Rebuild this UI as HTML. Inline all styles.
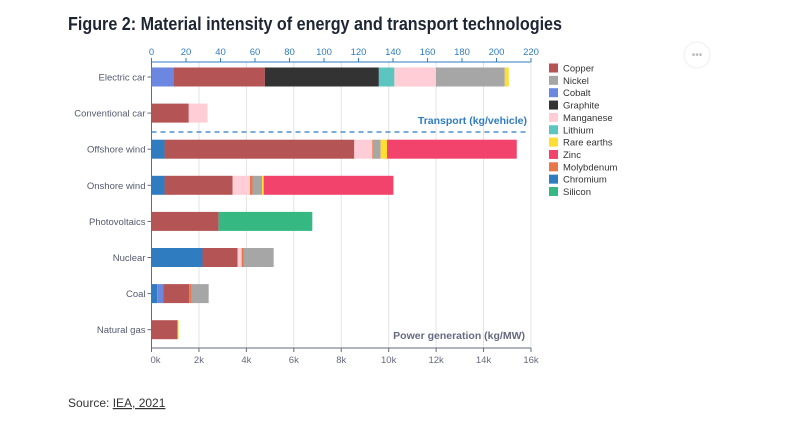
<!DOCTYPE html>
<html><head><meta charset="utf-8"><style>
body{margin:0;background:#fff;width:800px;height:418px;overflow:hidden;font-family:"Liberation Sans",sans-serif}
</style></head><body>
<svg id="chart" width="800" height="418" xmlns="http://www.w3.org/2000/svg" font-family="Liberation Sans, sans-serif">
<text x="68" y="30" font-size="18" font-weight="bold" fill="#1e2533" textLength="494" lengthAdjust="spacingAndGlyphs">Figure 2: Material intensity of energy and transport technologies</text>
<g><circle cx="697" cy="55" r="13" fill="#fff" stroke="#eee"/><text x="697" y="58" font-size="10" fill="#bbb" text-anchor="middle">•••</text></g>
<text x="68" y="407" font-size="12" fill="#333">Source: <tspan text-decoration="underline" fill="#333">IEA, 2021</tspan></text>
<g id="plot"></g>
<g id="legend"></g>
</svg>
<script>
const categories=["Electric car","Conventional car","Offshore wind","Onshore wind","Photovoltaics","Nuclear","Coal","Natural gas"];
const materials=["Copper","Nickel","Cobalt","Graphite","Manganese","Lithium","Rare earths","Zinc","Molybdenum","Chromium","Silicon"];
const colors=["#b55454","#a6a6a6","#6b87e0","#333333","#ffcdd5","#5cc5bf","#ffdd33","#f2436d","#e8784a","#2f7cc0","#35b882"];
const stackOrder=["Chromium","Cobalt","Copper","Graphite","Lithium","Silicon","Manganese","Molybdenum","Nickel","Rare earths","Zinc"];
// per-category values (transport: kg/vehicle, power: kg/MW)
const electricCar={Cobalt:12.8,Copper:52.9,Graphite:66.1,Lithium:9,Manganese:24.1,Nickel:39.9,"Rare earths":2.3};
const conventionalCar={Copper:21.6,Manganese:10.9};
const offshoreWind={Chromium:550,Copper:8000,Manganese:760,Molybdenum:60,Nickel:290,"Rare earths":270,Zinc:5470};
const onshoreWind={Chromium:550,Copper:2870,Manganese:730,Molybdenum:110,Nickel:400,"Rare earths":70,Zinc:5470};
const photovoltaics={Copper:2830,Silicon:3950};
const nuclear={Chromium:2150,Copper:1480,Manganese:170,Molybdenum:80,Nickel:1270};
const coal={Chromium:240,Cobalt:250,Copper:1100,Molybdenum:100,Nickel:720};
const naturalGas={Copper:1100,"Rare earths":40};
const rows=[electricCar,conventionalCar,offshoreWind,onshoreWind,photovoltaics,nuclear,coal,naturalGas];
const transportTicks=[0,20,40,60,80,100,120,140,160,180,200,220];
const powerTicks=[0,2000,4000,6000,8000,10000,12000,14000,16000];
const powerTickLabels=["0k","2k","4k","6k","8k","10k","12k","14k","16k"];

const NS="http://www.w3.org/2000/svg";
const x0=151.5,x1=531;
const xTop=v=>x0+(x1-x0)*v/220;
const xBot=v=>x0+(x1-x0)*v/16000;
const yTop=62,yBot=348;
const yRow=i=>77+i*36.1;
const plot=document.getElementById('plot');
function mk(tag,attrs,parent){const e=document.createElementNS(NS,tag);for(const k in attrs)e.setAttribute(k,attrs[k]);(parent||plot).appendChild(e);return e;}
// gridlines
powerTicks.forEach((t,i)=>{if(i>0){const g=mk('line',{x1:xBot(t),x2:xBot(t),y1:yTop,y2:yBot,stroke:'#e3e3e3','stroke-width':1});

}});
// axes
const ta=mk('line',{x1:x0,x2:x1,y1:yTop,y2:yTop,stroke:'#2f7cc0','stroke-width':1});


transportTicks.forEach(t=>{mk('line',{x1:xTop(t),x2:xTop(t),y1:yTop-4,y2:yTop,stroke:'#2f7cc0'});
const l=mk('text',{x:xTop(t),y:yTop-7,'font-size':9.5,fill:'#2f7cc0','text-anchor':'middle'});l.textContent=t;

});
const ba=mk('line',{x1:x0,x2:x1,y1:yBot,y2:yBot,stroke:'#666a80','stroke-width':1});


powerTicks.forEach((t,i)=>{mk('line',{x1:xBot(t),x2:xBot(t),y1:yBot,y2:yBot+4,stroke:'#666a80'});
const l=mk('text',{x:xBot(t)+(i==0?4:0),y:yBot+15,'font-size':9.5,fill:'#666a80','text-anchor':'middle'});l.textContent=powerTickLabels[i];

});
const ya=mk('line',{x1:x0,x2:x0,y1:yTop,y2:yBot,stroke:'#666a80'});


// bars
rows.forEach((row,i)=>{const sc=i<2?xTop:xBot;let acc=0;const y=yRow(i);
stackOrder.forEach(m=>{const v=row[m];if(!v)return;const r=mk('rect',{x:sc(acc),y:y-9.5,width:sc(acc+v)-sc(acc),height:19,fill:colors[materials.indexOf(m)]});

acc+=v;});
mk('line',{x1:x0-4,x2:x0,y1:y,y2:y,stroke:'#666a80'});
const l=mk('text',{x:x0-6,y:y+3.5,'font-size':9.5,fill:'#555a70','text-anchor':'end'});l.textContent=categories[i];

});
const d=mk('line',{x1:x0,x2:528,y1:132,y2:132,stroke:'#2f7cc0','stroke-dasharray':'5,4','stroke-width':1.3});


const t1=mk('text',{x:527,y:124,'font-size':10.5,'font-weight':'bold',fill:'#2f7cc0','text-anchor':'end'});t1.textContent='Transport (kg/vehicle)';


const t2=mk('text',{x:525,y:339,'font-size':10.5,'font-weight':'bold',fill:'#666a80','text-anchor':'end'});t2.textContent='Power generation (kg/MW)';


// legend
const lg=document.getElementById('legend');
materials.forEach((m,i)=>{const y=68+i*12.35;const g=mk('g',{},lg);


mk('rect',{x:549,y:y-4.5,width:9,height:9,fill:colors[i]},g);
const t=mk('text',{x:563,y:y+3.5,'font-size':9.5,fill:'#333'},g);t.textContent=m;});
</script>
</body></html>
